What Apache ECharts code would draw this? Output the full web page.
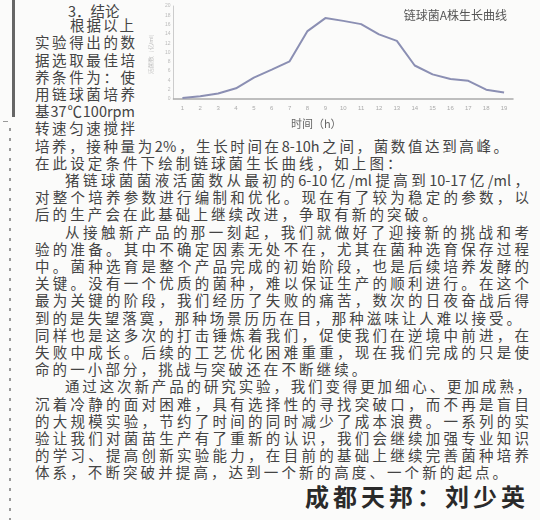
<!DOCTYPE html>
<html>
<head>
<meta charset="utf-8">
<script src="https://cdn.jsdelivr.net/npm/echarts@6/dist/echarts.min.js"></script>
<style>
  html, body { margin:0; padding:0; }
  body { width:540px; height:520px; position:relative; overflow:hidden; background:#fbfbfa;
         font-family:"Noto Sans CJK SC","Noto Sans",sans-serif; color:#444; }
  .ln { position:absolute; font-size:14.5px; line-height:16px; height:16px; white-space:nowrap; }
  .j { text-align:justify; text-align-last:justify; }
  .n { letter-spacing:3.1px; }
  #chart { position:absolute; left:140px; top:0; width:400px; height:134px; }
  .bar { position:absolute; left:12px; top:0; width:3px; height:117px; background:#666; }
  .dots { position:absolute; left:9px; top:128px; width:2px; height:392px;
          background:repeating-linear-gradient(to bottom,#9a9a9a 0,#9a9a9a 3px,transparent 3px,transparent 10px); }
  .sig { position:absolute; left:305px; top:483px; font-size:24px; font-weight:bold; letter-spacing:4px; color:#2a2a2a; line-height:26px; }
</style>
</head>
<body>
<div class="bar"></div>
<div class="dots"></div>
<div style="position:absolute;left:3px;top:121px;width:5px;height:1px;background:#999"></div>

<div class="ln j" style="top:3px;left:68px;width:44px">3．结论</div>
<div class="ln j" style="top:17.2px;left:70px;width:64px">根据以上</div>
<div class="ln j" style="top:34.4px;left:35px;width:100px">实验得出的数</div>
<div class="ln j" style="top:51.6px;left:35px;width:100px">据选取最佳培</div>
<div class="ln j" style="top:68.8px;left:35px;width:100px">养条件为：使</div>
<div class="ln j" style="top:86px;left:35px;width:100px">用链球菌培养</div>
<div class="ln j" style="top:103.2px;left:35px;width:100px">基37℃100rpm</div>
<div class="ln j" style="top:120.4px;left:35px;width:100px">转速匀速搅拌</div>
<div class="ln j" style="top:137.6px;left:35px;width:473px">培养，接种量为2%，生长时间在8-10h之间，菌数值达到高峰。</div>
<div class="ln n" style="top:154.8px;left:35px">在此设定条件下绘制链球菌生长曲线，如上图：</div>
<div class="ln j" style="top:172px;left:65px;width:464px">猪链球菌菌液活菌数从最初的6-10亿/ml提高到10-17亿/ml，</div>
<div class="ln j" style="top:189.2px;left:35px;width:494px">对整个培养参数进行编制和优化。现在有了较为稳定的参数，以</div>
<div class="ln n" style="top:206.4px;left:35px">后的生产会在此基础上继续改进，争取有新的突破。</div>
<div class="ln j" style="top:223.6px;left:65px;width:464px">从接触新产品的那一刻起，我们就做好了迎接新的挑战和考</div>
<div class="ln j" style="top:240.8px;left:35px;width:494px">验的准备。其中不确定因素无处不在，尤其在菌种选育保存过程</div>
<div class="ln j" style="top:258px;left:35px;width:494px">中。菌种选育是整个产品完成的初始阶段，也是后续培养发酵的</div>
<div class="ln j" style="top:275.2px;left:35px;width:494px">关键。没有一个优质的菌种，难以保证生产的顺利进行。在这个</div>
<div class="ln j" style="top:292.4px;left:35px;width:494px">最为关键的阶段，我们经历了失败的痛苦，数次的日夜奋战后得</div>
<div class="ln j" style="top:309.6px;left:35px;width:486px">到的是失望落寞，那种场景历历在目，那种滋味让人难以接受。</div>
<div class="ln j" style="top:326.8px;left:35px;width:494px">同样也是这多次的打击锤炼着我们，促使我们在逆境中前进，在</div>
<div class="ln j" style="top:344px;left:35px;width:494px">失败中成长。后续的工艺优化困难重重，现在我们完成的只是使</div>
<div class="ln n" style="top:361.2px;left:35px">命的一小部分，挑战与突破还在不断继续。</div>
<div class="ln j" style="top:378.4px;left:65px;width:466px">通过这次新产品的研究实验，我们变得更加细心、更加成熟，</div>
<div class="ln j" style="top:395.6px;left:35px;width:494px">沉着冷静的面对困难，具有选择性的寻找突破口，而不再是盲目</div>
<div class="ln j" style="top:412.8px;left:35px;width:494px">的大规模实验，节约了时间的同时减少了成本浪费。一系列的实</div>
<div class="ln j" style="top:430px;left:35px;width:494px">验让我们对菌苗生产有了重新的认识，我们会继续加强专业知识</div>
<div class="ln j" style="top:447.2px;left:35px;width:494px">的学习、提高创新实验能力，在目前的基础上继续完善菌种培养</div>
<div class="ln n" style="top:464.4px;left:35px">体系，不断突破并提高，达到一个新的高度、一个新的起点。</div>
<div class="sig">成都天邦：刘少英</div>

<div id="chart"></div>
<script>
const hours = ['1','2','3','4','5','6','7','8','9','10','11','12','13','14','15','16','17','18','19'];
const viableCount = [0.2, 0.6, 1.2, 2.3, 4.6, 6.3, 8.1, 14.6, 17.4, 16.8, 16.1, 13.9, 12.5, 7.2, 5.3, 4.3, 3.9, 2.0, 1.4];
const yMin = 0, yMax = 20, yStep = 2;
const chartTitle = '链球菌A株生长曲线';
const xName = '时间（h）';
const yName = '活菌数（亿/ml）';

const chart = echarts.init(document.getElementById('chart'), null, {renderer:'canvas'});
chart.setOption({
  animation:false,
  title:{ text:chartTitle, right:28, top:4,
          textStyle:{ fontSize:12, fontWeight:'normal', color:'#555', fontFamily:'Noto Sans CJK SC' } },
  grid:{ left:23, right:27, top:6, bottom:34 },
  xAxis:{ type:'category', data:hours, boundaryGap:true,
          name:xName, nameLocation:'middle', nameGap:19,
          nameTextStyle:{ fontSize:11, color:'#666', padding:[0,54,0,0], fontFamily:'Noto Sans CJK SC' },
          axisLine:{ lineStyle:{ color:'#aaa', width:1.5 } },
          axisTick:{ length:2, lineStyle:{ color:'#ccc' } },
          axisLabel:{ fontSize:6, color:'#aaa', margin:6 } },
  yAxis:{ type:'value', min:yMin, max:yMax, interval:yStep,
          name:yName, nameLocation:'middle', nameRotate:90, nameGap:12,
          nameTextStyle:{ fontSize:6, color:'#bbb' },
          axisLine:{ show:true, lineStyle:{ color:'#ccc' } },
          axisTick:{ show:false },
          splitLine:{ show:false },
          axisLabel:{ fontSize:5, color:'#bbb', margin:3 } },
  series:[{ type:'line', data:viableCount, showSymbol:false, smooth:false,
            lineStyle:{ color:'#8b8fb3', width:2 },
            label:{ show:true, position:'right', offset:[1,4], fontSize:6, color:'#a0a0a8' } }]
});
</script>
</body>
</html>
